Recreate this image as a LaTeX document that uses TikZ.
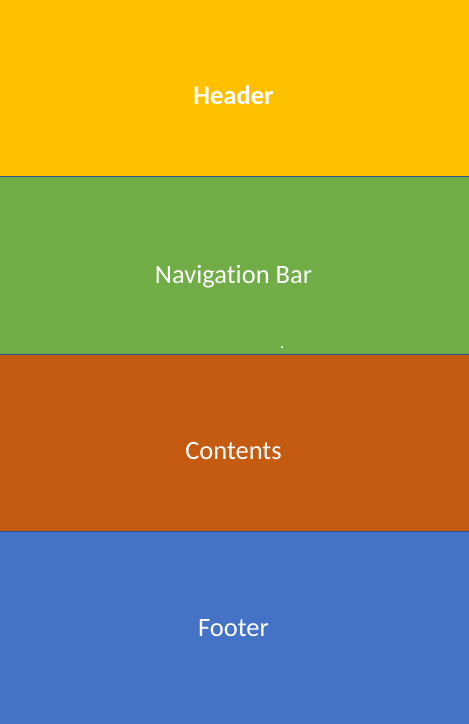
\documentclass[tikz,border=0pt]{standalone}
\usepackage{fontspec}
\setmainfont{Carlito}[Ligatures=NoCommon]
\definecolor{hdrgold}{HTML}{FFC000}
\definecolor{navgreen}{HTML}{70AD47}
\definecolor{cntorange}{HTML}{C55A11}
\definecolor{ftrblue}{HTML}{4472C4}
\definecolor{edgeblue}{HTML}{2F528F}
\begin{document}
\begin{tikzpicture}[x=1bp,y=-1bp,
  band/.style={draw=edgeblue,line width=1.3bp},
  bandlabel/.style={text=white,anchor=base,inner sep=0pt,
    font=\fontsize{26.5bp}{32bp}\selectfont}]
\useasboundingbox (0,0) rectangle (469,724);
% stacked page sections
\filldraw[band,fill=hdrgold]   (-2,-2)  rectangle (471,176.5);
\filldraw[band,fill=navgreen]  (-2,176.5) rectangle (471,354.5);
\filldraw[band,fill=cntorange] (-2,354.5) rectangle (471,531.5);
\filldraw[band,fill=ftrblue]   (-2,531.5) rectangle (471,727);
% labels
\node[bandlabel,font=\fontsize{26.5bp}{32bp}\selectfont\bfseries] (header) at (233.5,105) {Header};
\node[bandlabel] (nav) at (233.5,283) {Navigation Bar};
\node[bandlabel] (contents) at (233.5,459) {Contents};
\node[bandlabel] (footer) at (233.5,636.5) {Footer};
% stray speck in the navigation bar
\fill[white!80!navgreen] (281.3,346.3) rectangle (283,348);
\end{tikzpicture}
\end{document}
